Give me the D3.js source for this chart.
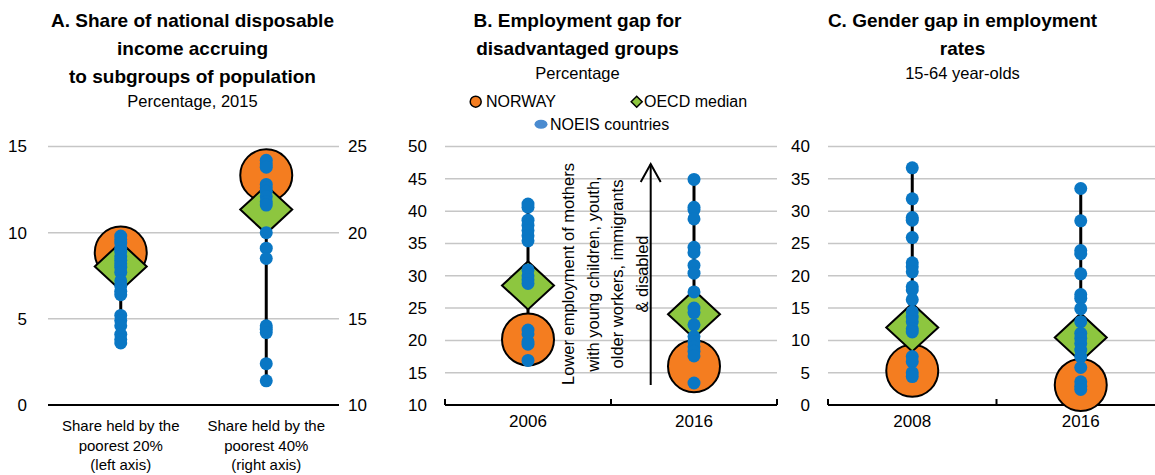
<!DOCTYPE html>
<html lang="en">
<head>
    <meta charset="utf-8">
    <title>Inclusiveness indicators, Norway</title>
    <script src="https://cdn.jsdelivr.net/npm/d3@7"></script>
    <style type="text/css">
      body{
          margin: 0;
          background-color: white;
      }
      text{
          font-family: "Liberation Sans", Arial, sans-serif;
          fill: black;
      }
      .grid line{
          stroke: #c6c6c6;
          stroke-width: 1.5;
      }
      .tick-label{
          font-size: 17px;
      }
      .title{
          font-size: 19px;
          font-weight: bold;
      }
      .sub{
          font-size: 16.5px;
      }
    </style>
</head>

<body>
<script type="text/javascript">
    // panel A: share of income (left axis for 20%, right axis for 40%)
    var catsA = ["Share held by the|poorest 20%|(left axis)", "Share held by the|poorest 40%|(right axis)"];
    var norwayA = [8.85, 23.33];
    var oecdA = [8.04, 21.34];
    var noeisA = [
        [9.8, 9.6, 9.4, 9.1, 8.9, 8.6, 8.4, 8.2, 8.0, 7.7, 7.2, 6.9, 6.6, 6.4, 5.2, 4.9, 4.6, 4.1, 3.8, 3.6],
        [24.2, 24.0, 23.8, 22.8, 22.6, 22.4, 22.1, 21.8, 21.6, 20.0, 19.1, 18.5, 14.6, 14.4, 14.2, 12.4, 11.4]
    ];
    var ticksLeftA = [0, 5, 10, 15];
    var ticksRightA = [10, 15, 20, 25];

    // panel B: employment gap for disadvantaged groups
    var catsB = ["2006", "2016"];
    var norwayB = [20.15, 16.0];
    var oecdB = [28.5, 24.05];
    var noeisB = [
        [41.1, 40.6, 38.6, 37.8, 37.0, 36.2, 35.4, 30.9, 30.0, 29.4, 28.8, 21.6, 21.0, 19.8, 19.4, 16.9],
        [44.9, 40.6, 40.2, 38.8, 34.4, 33.6, 31.6, 30.4, 27.5, 25.0, 24.3, 22.4, 20.6, 19.8, 19.0, 18.3, 17.6, 13.4]
    ];
    var ticksB = [10, 15, 20, 25, 30, 35, 40, 45, 50];

    // panel C: gender gap in employment rates
    var catsC = ["2008", "2016"];
    var norwayC = [5.3, 3.1];
    var oecdC = [12.0, 10.45];
    var noeisC = [
        [36.7, 31.9, 29.0, 28.6, 25.9, 22.0, 21.4, 20.6, 18.3, 17.8, 16.3, 14.4, 13.6, 12.9, 11.8, 11.3, 7.5, 6.7, 5.0, 4.4],
        [33.5, 28.5, 23.9, 23.4, 20.3, 17.1, 16.5, 14.9, 12.9, 11.1, 10.3, 9.5, 8.5, 7.5, 5.8, 3.6, 2.9, 2.4]
    ];
    var ticksC = [0, 5, 10, 15, 20, 25, 30, 35, 40];

    var legendNames = ["NORWAY", "OECD median", "NOEIS countries"];

    var orange = "#f47d20", green = "#8dc63f", blue = "#0a77c4";
    var plotTop = 146.5, plotBottom = 405;
    var rBig = 26, rDot = 6.5;

    var svg = d3.select("body").append("svg").attr("width", 1155).attr("height", 475);

    // titles, centred on each third of the figure
    function title(cx, lines, subs) {
        var g = svg.append("g");
        lines.forEach(function (t, i) {
            g.append("text").attr("class", "title").attr("x", cx).attr("y", 27 + i * 28)
                .attr("text-anchor", "middle").text(t);
        });
        subs.forEach(function (t, i) {
            g.append("text").attr("class", "sub").attr("x", cx).attr("y", 27 + lines.length * 28 - 4 + i * 26)
                .attr("text-anchor", "middle").text(t);
        });
    }
    title(192.5, ["A. Share of national disposable", "income accruing", "to subgroups of population"], ["Percentage, 2015"]);
    title(577.5, ["B. Employment gap for", "disadvantaged groups"], ["Percentage"]);
    title(962.5, ["C. Gender gap in employment", "rates"], ["15-64 year-olds"]);

    function gridlines(x, y, ticks, skip) {
        svg.append("g").attr("class", "grid").selectAll("line")
            .data(ticks.filter(function (d) { return d !== skip; }))
            .enter().append("line")
            .attr("x1", x.range()[0]).attr("x2", x.range()[1])
            .attr("y1", function (d) { return y(d); })
            .attr("y2", function (d) { return y(d); });
    }

    function tickLabels(y, ticks, xpos, anchor) {
        svg.append("g").selectAll("text").data(ticks).enter().append("text")
            .attr("class", "tick-label")
            .attr("x", xpos).attr("y", function (d) { return y(d); })
            .attr("dy", "0.35em").attr("text-anchor", anchor)
            .text(function (d) { return d; });
    }

    function baseAxis(x, withTicks) {
        var r = x.range();
        svg.append("line").attr("x1", r[0]).attr("x2", r[1]).attr("y1", plotBottom).attr("y2", plotBottom)
            .attr("stroke", "black").attr("stroke-width", 2);
        if (withTicks) {
            var pos = [r[0], r[0] + x.step(), r[1]];
            svg.append("g").selectAll("line").data(pos).enter().append("line")
                .attr("x1", function (d) { return d; }).attr("x2", function (d) { return d; })
                .attr("y1", plotBottom).attr("y2", plotBottom - 6)
                .attr("stroke", "black").attr("stroke-width", 2);
        }
    }

    // one column: range line, norway circle, oecd diamond, noeis dots
    function column(cx, y, nor, oecd, dots) {
        var g = svg.append("g");
        g.append("line").attr("x1", cx).attr("x2", cx)
            .attr("y1", y(d3.max(dots))).attr("y2", y(d3.min(dots)))
            .attr("stroke", "black").attr("stroke-width", 3);
        g.append("circle").attr("cx", cx).attr("cy", y(nor)).attr("r", rBig)
            .attr("fill", orange).attr("stroke", "black").attr("stroke-width", 2);
        var dy = y(oecd);
        g.append("path")
            .attr("d", "M" + (cx - rBig) + "," + dy + "L" + cx + "," + (dy - 24) + "L" + (cx + rBig) + "," + dy + "L" + cx + "," + (dy + 24) + "Z")
            .attr("fill", green).attr("stroke", "black").attr("stroke-width", 2);
        g.selectAll(".dot").data(dots).enter().append("circle").attr("class", "dot")
            .attr("cx", cx).attr("cy", function (d) { return y(d); }).attr("r", rDot)
            .attr("fill", blue);
    }

    // ---- panel A ----
    var xA = d3.scaleBand().domain(catsA).range([48, 339]);
    var yLeft = d3.scaleLinear().domain([0, 15]).range([plotBottom, plotTop]);
    var yRight = d3.scaleLinear().domain([10, 25]).range([plotBottom, plotTop]);
    gridlines(xA, yLeft, ticksLeftA, 0);
    baseAxis(xA, false);
    tickLabels(yLeft, ticksLeftA, 27, "end");
    tickLabels(yRight, ticksRightA, 348, "start");
    column(xA(catsA[0]) + xA.bandwidth() / 2, yLeft, norwayA[0], oecdA[0], noeisA[0]);
    column(xA(catsA[1]) + xA.bandwidth() / 2, yRight, norwayA[1], oecdA[1], noeisA[1]);
    catsA.forEach(function (c) {
        var t = svg.append("text").attr("text-anchor", "middle").style("font-size", "15px");
        c.split("|").forEach(function (s, i) {
            t.append("tspan").attr("x", xA(c) + xA.bandwidth() / 2).attr("y", 431 + i * 19.5).text(s);
        });
    });

    // ---- panel B ----
    var xB = d3.scaleBand().domain(catsB).range([445, 777]);
    var yB = d3.scaleLinear().domain([10, 50]).range([plotBottom, plotTop]);
    gridlines(xB, yB, ticksB, 10);
    baseAxis(xB, true);
    tickLabels(yB, ticksB, 427, "end");
    catsB.forEach(function (c, i) {
        column(xB(c) + xB.bandwidth() / 2, yB, norwayB[i], oecdB[i], noeisB[i]);
        svg.append("text").attr("class", "tick-label").attr("text-anchor", "middle")
            .attr("x", xB(c) + xB.bandwidth() / 2).attr("y", 427).text(c);
    });

    // arrow and note
    var ax = 650.7;
    svg.append("line").attr("x1", ax).attr("x2", ax).attr("y1", 385).attr("y2", 164)
        .attr("stroke", "black").attr("stroke-width", 2);
    svg.append("path").attr("d", "M" + (ax - 10) + ",182L" + ax + ",164L" + (ax + 10) + ",182")
        .attr("fill", "none").attr("stroke", "black").attr("stroke-width", 2);
    var note = svg.append("text").attr("transform", "translate(574,274) rotate(-90)")
        .attr("text-anchor", "middle").style("font-size", "16.5px");
    ["Lower employment of mothers", "with young children, youth,", "older workers, immigrants", "& disabled"]
        .forEach(function (s, i) {
            note.append("tspan").attr("x", 0).attr("y", i * 24.7).text(s);
        });

    // legend
    var lg = svg.append("g").style("font-size", "16px");
    lg.append("circle").attr("cx", 475.7).attr("cy", 101.7).attr("r", 5.5)
        .attr("fill", orange).attr("stroke", "black").attr("stroke-width", 1.5);
    lg.append("text").attr("x", 486).attr("y", 107.3).text(legendNames[0]);
    lg.append("path").attr("d", "M631.2,101.7L636.7,96.2L642.2,101.7L636.7,107.2Z")
        .attr("fill", green).attr("stroke", "black").attr("stroke-width", 1.5);
    lg.append("text").attr("x", 644).attr("y", 107.3).text(legendNames[1]);
    lg.append("ellipse").attr("cx", 541).attr("cy", 124.3).attr("rx", 6.5).attr("ry", 4.5)
        .attr("fill", "#4a8bd0");
    lg.append("text").attr("x", 550).attr("y", 130).text(legendNames[2]);

    // ---- panel C ----
    var xC = d3.scaleBand().domain(catsC).range([828, 1165]);
    var yC = d3.scaleLinear().domain([0, 40]).range([plotBottom, plotTop]);
    gridlines(xC, yC, ticksC, 0);
    baseAxis(xC, true);
    tickLabels(yC, ticksC, 810, "end");
    catsC.forEach(function (c, i) {
        column(xC(c) + xC.bandwidth() / 2, yC, norwayC[i], oecdC[i], noeisC[i]);
        svg.append("text").attr("class", "tick-label").attr("text-anchor", "middle")
            .attr("x", xC(c) + xC.bandwidth() / 2).attr("y", 427).text(c);
    });
</script>
</body>
</html>
